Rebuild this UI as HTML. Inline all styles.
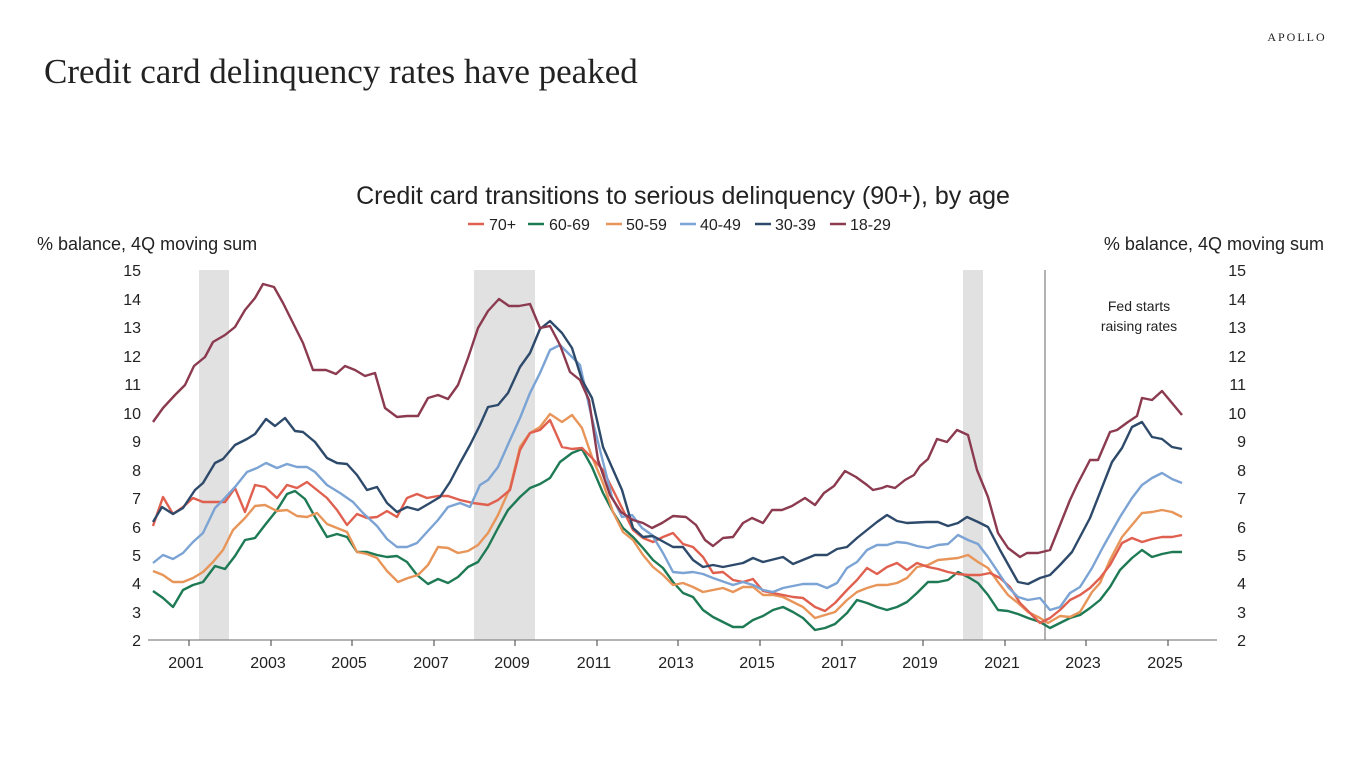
<!DOCTYPE html>
<html><head><meta charset="utf-8"><style>
html,body{margin:0;padding:0;background:#fff;width:1366px;height:768px;overflow:hidden}
svg{display:block}
text{font-family:"Liberation Sans",sans-serif;fill:#222}
.s{fill:none;stroke-width:2.4;stroke-linejoin:round}
</style></head><body>
<svg width="1366" height="768" viewBox="0 0 1366 768">
<text x="44" y="83" style="font-family:'Liberation Serif',serif;font-size:35px" fill="#111">Credit card delinquency rates have peaked</text>
<text x="1297" y="41" text-anchor="middle" style="font-family:'Liberation Serif',serif;font-size:12px;letter-spacing:2px">APOLLO</text>
<text x="683" y="204" text-anchor="middle" style="font-size:25px">Credit card transitions to serious delinquency (90+), by age</text>
<g style="font-size:16px">
<line x1="468" y1="224" x2="484" y2="224" stroke="#E06050" stroke-width="2.5"/><text x="489" y="230">70+</text>
<line x1="528" y1="224" x2="544" y2="224" stroke="#1E7A55" stroke-width="2.5"/><text x="549" y="230">60-69</text>
<line x1="606" y1="224" x2="622" y2="224" stroke="#E8955A" stroke-width="2.5"/><text x="626" y="230">50-59</text>
<line x1="680" y1="224" x2="696" y2="224" stroke="#7BA3D4" stroke-width="2.5"/><text x="700" y="230">40-49</text>
<line x1="755" y1="224" x2="771" y2="224" stroke="#2E4A6B" stroke-width="2.5"/><text x="775" y="230">30-39</text>
<line x1="830" y1="224" x2="846" y2="224" stroke="#8B3A4F" stroke-width="2.5"/><text x="850" y="230">18-29</text>
</g>
<text x="37" y="250" style="font-size:18px">% balance, 4Q moving sum</text>
<text x="1324" y="250" text-anchor="end" style="font-size:18px">% balance, 4Q moving sum</text>
<rect x="199" y="270" width="30" height="370" fill="#e1e1e1"/>
<rect x="474" y="270" width="61" height="370" fill="#e1e1e1"/>
<rect x="963" y="270" width="20" height="370" fill="#e1e1e1"/>
<line x1="1045" y1="270" x2="1045" y2="640" stroke="#888" stroke-width="1.3"/>
<text x="1139" y="311" text-anchor="middle" style="font-size:14px">Fed starts</text>
<text x="1139" y="331" text-anchor="middle" style="font-size:14px">raising rates</text>
<g style="font-size:16px" text-anchor="end">
<text x="141" y="276">15</text><text x="141" y="305">14</text><text x="141" y="333">13</text><text x="141" y="362">12</text><text x="141" y="390">11</text><text x="141" y="419">10</text><text x="141" y="447">9</text><text x="141" y="476">8</text><text x="141" y="504">7</text><text x="141" y="533">6</text><text x="141" y="561">5</text><text x="141" y="589">4</text><text x="141" y="618">3</text><text x="141" y="646">2</text>
</g>
<g style="font-size:16px" text-anchor="end">
<text x="1246" y="276">15</text><text x="1246" y="305">14</text><text x="1246" y="333">13</text><text x="1246" y="362">12</text><text x="1246" y="390">11</text><text x="1246" y="419">10</text><text x="1246" y="447">9</text><text x="1246" y="476">8</text><text x="1246" y="504">7</text><text x="1246" y="533">6</text><text x="1246" y="561">5</text><text x="1246" y="589">4</text><text x="1246" y="618">3</text><text x="1246" y="646">2</text>
</g>
<line x1="148" y1="640" x2="1217" y2="640" stroke="#888" stroke-width="1.3"/>
<g stroke="#666" stroke-width="1.3">
<line x1="189" y1="640" x2="189" y2="646"/><line x1="271" y1="640" x2="271" y2="646"/><line x1="352" y1="640" x2="352" y2="646"/><line x1="434" y1="640" x2="434" y2="646"/><line x1="515" y1="640" x2="515" y2="646"/><line x1="597" y1="640" x2="597" y2="646"/><line x1="678" y1="640" x2="678" y2="646"/><line x1="760" y1="640" x2="760" y2="646"/><line x1="842" y1="640" x2="842" y2="646"/><line x1="923" y1="640" x2="923" y2="646"/><line x1="1005" y1="640" x2="1005" y2="646"/><line x1="1086" y1="640" x2="1086" y2="646"/><line x1="1168" y1="640" x2="1168" y2="646"/>
</g>
<g style="font-size:16px" text-anchor="middle">
<text x="186" y="668">2001</text><text x="268" y="668">2003</text><text x="349" y="668">2005</text><text x="431" y="668">2007</text><text x="512" y="668">2009</text><text x="594" y="668">2011</text><text x="676" y="668">2013</text><text x="757" y="668">2015</text><text x="839" y="668">2017</text><text x="920" y="668">2019</text><text x="1002" y="668">2021</text><text x="1083" y="668">2023</text><text x="1165" y="668">2025</text>
</g>
<polyline class="s" stroke="#1E7A55" points="153,591 163,598 173,607 183,590 193,585 203,582 215,566 225,569 235,556 245,540 255,538 265,525 277,510 287,494 295,491 305,499 315,517 327,537 337,534 347,537 357,552 367,552 377,555 387,557 397,556 407,562 417,575 428,584 438,579 448,583 458,577 468,567 478,562 488,547 498,528 508,510 520,497 530,488 540,484 550,478 560,462 572,453 582,449 592,467 603,493 613,512 623,528 633,537 643,548 653,560 663,568 673,582 683,593 693,597 703,610 713,617 723,622 733,627 743,627 753,620 763,616 773,610 783,607 793,612 803,618 815,630 825,628 835,624 847,613 857,600 867,603 877,607 887,610 897,607 907,602 917,593 928,582 938,582 948,580 958,572 968,577 978,583 988,595 998,610 1008,611 1018,614 1028,618 1040,622 1050,628 1060,623 1070,618 1080,615 1090,608 1100,600 1110,587 1120,570 1132,558 1142,550 1152,557 1162,554 1172,552 1182,552"/>
<polyline class="s" stroke="#E8955A" points="153,571 163,575 173,582 183,582 193,578 203,572 213,562 223,550 233,530 245,518 255,506 265,505 277,511 287,510 297,516 307,517 317,513 327,524 337,528 347,532 357,552 367,554 377,558 387,571 398,582 408,578 418,575 428,565 438,547 448,548 458,553 468,551 478,545 488,533 498,515 510,488 520,447 530,433 540,427 550,414 562,422 572,415 582,428 592,457 603,483 613,512 623,532 633,540 643,555 653,567 663,575 673,585 683,583 693,587 703,592 713,590 723,588 733,592 743,587 753,587 763,595 773,595 783,597 793,602 803,607 815,618 825,615 835,612 847,600 857,592 867,588 877,585 887,585 897,583 907,578 917,567 928,565 938,560 948,559 958,558 968,555 978,562 988,568 998,582 1008,595 1018,603 1028,612 1040,618 1048,623 1060,616 1070,617 1080,612 1092,592 1100,583 1110,560 1122,537 1132,525 1142,513 1152,512 1162,510 1172,512 1182,517"/>
<polyline class="s" stroke="#E06050" points="153,526 163,497 173,514 183,507 193,498 203,502 213,502 225,502 235,488 245,512 255,485 265,487 277,498 287,485 297,488 307,482 317,490 327,498 337,510 347,525 357,514 367,518 377,517 387,511 397,517 407,498 417,494 427,498 438,496 448,496 460,500 473,503 488,505 498,500 510,490 520,450 530,433 540,430 550,420 562,447 572,449 582,448 592,458 603,470 613,490 623,510 633,530 643,538 653,542 663,537 673,533 683,544 693,547 703,557 713,573 723,572 733,580 743,582 753,579 763,591 773,593 783,595 793,597 803,598 815,607 825,611 835,603 847,590 857,580 867,568 877,574 887,567 897,563 907,570 917,563 928,567 938,569 948,572 958,574 968,575 980,575 990,573 1000,578 1010,587 1020,603 1030,613 1040,623 1050,618 1060,610 1070,600 1080,595 1090,588 1100,578 1110,565 1122,543 1132,538 1142,542 1152,539 1162,537 1172,537 1182,535"/>
<polyline class="s" stroke="#7BA3D4" points="153,563 163,555 173,559 183,553 193,542 203,533 215,508 223,500 235,487 247,472 257,468 266,463 277,468 287,464 297,467 307,467 315,472 327,485 340,493 353,502 363,513 377,526 387,539 397,547 407,547 417,543 427,532 438,520 448,507 460,503 470,507 480,485 488,480 498,467 510,440 520,418 530,393 540,373 550,350 560,345 570,355 580,365 590,410 600,450 612,497 622,517 632,515 642,528 652,535 663,553 673,572 683,573 693,572 703,574 713,578 733,585 743,582 753,585 763,590 773,592 783,588 793,586 803,584 817,584 827,588 837,583 847,568 857,562 867,550 877,545 887,545 897,542 907,543 917,546 928,548 938,545 948,544 958,535 968,540 978,544 988,557 998,572 1008,587 1018,597 1028,600 1040,598 1050,610 1060,607 1070,593 1080,587 1092,568 1103,547 1120,517 1132,498 1142,485 1152,478 1162,473 1172,479 1182,483"/>
<polyline class="s" stroke="#2E4A6B" points="153,522 162,507 173,514 183,508 195,490 203,483 215,463 223,459 235,445 247,439 255,434 266,419 275,426 285,418 295,431 303,432 315,442 327,458 337,463 347,464 357,475 367,490 377,487 387,503 397,512 407,507 418,510 430,503 440,497 450,482 460,463 470,445 480,425 488,407 498,405 508,393 520,367 530,353 540,329 550,321 562,333 572,348 582,380 592,398 603,447 622,490 633,528 643,537 653,536 673,547 683,547 693,560 703,567 713,565 723,567 743,563 753,558 763,562 783,557 793,564 815,555 827,555 837,549 847,547 857,538 867,530 877,522 887,515 897,521 907,523 927,522 938,522 948,526 958,523 967,517 978,522 988,527 1000,550 1018,582 1028,584 1040,578 1050,575 1060,565 1072,552 1090,518 1112,462 1122,448 1132,427 1142,422 1152,437 1162,439 1172,447 1182,449"/>
<polyline class="s" stroke="#8B3A4F" points="153,422 163,408 175,395 185,385 194,366 205,357 213,342 225,335 235,327 245,310 255,298 263,284 274,287 283,303 293,323 303,343 313,370 326,370 336,374 345,366 355,370 365,376 375,373 385,408 397,417 407,416 418,416 428,398 438,395 448,399 458,385 468,358 478,328 488,311 499,299 509,306 519,306 530,304 540,328 550,326 560,345 570,372 580,380 589,400 598,460 610,495 621,512 633,520 643,523 652,528 662,523 673,516 686,517 696,525 705,540 713,546 723,538 733,537 743,523 752,518 763,523 772,510 782,510 792,506 805,498 815,505 824,493 834,486 845,471 856,477 867,485 873,490 882,488 887,486 895,488 905,480 914,475 920,466 928,459 937,439 947,442 957,430 968,435 977,470 988,497 998,533 1008,548 1020,557 1027,553 1038,553 1050,550 1058,530 1070,500 1077,485 1090,460 1098,460 1110,432 1117,430 1128,422 1137,416 1142,398 1152,400 1162,391 1182,415"/>
</svg>
</body></html>
